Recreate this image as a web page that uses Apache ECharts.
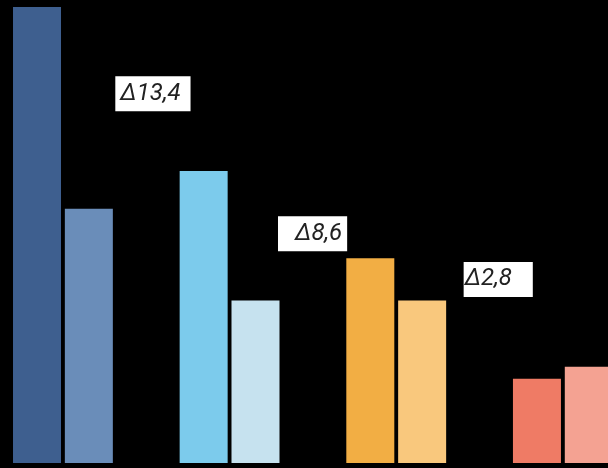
<!DOCTYPE html>
<html>
<head>
<meta charset="utf-8">
<script src="https://cdn.jsdelivr.net/npm/echarts@6/dist/echarts.min.js"></script>
<style>html,body{margin:0;padding:0;background:#000;}#c{width:608px;height:468px;}</style>
</head>
<body>
<div id="c"></div>
<script>
var categories = ["G1", "G2", "G3", "G4"];
var valuesA = [30.3, 19.4, 13.6, 5.6];
var valuesB = [16.9, 10.8, 10.8, 6.4];
var deltaLabels = ["Δ13,4", "Δ8,6", "Δ2,8", null];

var colorsA = ["#3e5f8f", "#7ccbec", "#f2ae44", "#ef7b65"];
var colorsB = ["#6a8db9", "#c6e2ef", "#f9c87d", "#f4a292"];
var labelOffsets = [[90, -14], [83, -2], [102, 0]];
var labelPads = [[4, 10, 4, 5], [4, 5, 4, 17], [4, 21, 4, 1]];

var mids = [];
for (var i = 0; i < categories.length; i++) {
  if (deltaLabels[i]) {
    mids.push({
      value: (valuesA[i] + valuesB[i]) / 2,
      label: {
        show: true,
        formatter: deltaLabels[i],
        offset: labelOffsets[i],
        padding: labelPads[i],
        position: 'inside'
      }
    });
  } else {
    mids.push(null);
  }
}

var chart = echarts.init(document.getElementById('c'));
chart.setOption({
  backgroundColor: '#000',
  animation: false,
  grid: { left: -20.4, right: -38.2, top: 4, bottom: 5, containLabel: false, outerBoundsMode: 'none' },
  xAxis: { type: 'category', data: categories, show: false },
  yAxis: { type: 'value', min: 0, max: 30.5, show: false },
  series: [
    {
      type: 'bar', data: valuesA, barWidth: 48, barGap: '8%',
      itemStyle: { color: function (p) { return colorsA[p.dataIndex]; } }
    },
    {
      type: 'bar', data: valuesB, barWidth: 48, barGap: '8%',
      itemStyle: { color: function (p) { return colorsB[p.dataIndex]; } }
    },
    {
      type: 'scatter', data: mids, symbolSize: 0, z: 10,
      itemStyle: { opacity: 1 },
      label: {
        show: true,
        backgroundColor: '#ffffff',
        color: '#222',
        opacity: 1,
        fontFamily: 'Roboto',
        fontStyle: 'italic',
        fontSize: 24,
        lineHeight: 27
      }
    }
  ]
});
</script>
</body>
</html>
